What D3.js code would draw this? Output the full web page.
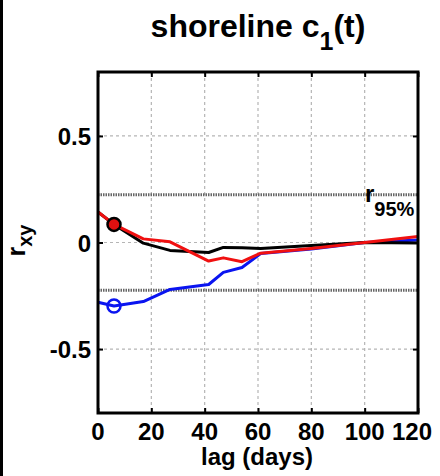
<!DOCTYPE html>
<html>
<head>
<meta charset="utf-8">
<script src="https://cdn.jsdelivr.net/npm/d3@7"></script>
<style>
  body { margin: 0; background: #fff; }
  text { font-family: "Liberation Sans", Arial, sans-serif; font-weight: bold; fill: #000; }
</style>
</head>
<body>
<svg id="chart" width="440" height="476"></svg>
<script>
// Data
const lags = [0, 6, 17, 27, 41.5, 47, 54, 61, 80, 100, 120];
const blackR = [0.143, 0.085, -0.003, -0.037, -0.047, -0.023, -0.025, -0.028, -0.014, 0, -0.002];
const redR = [0.143, 0.085, 0.017, 0.003, -0.087, -0.072, -0.09, -0.05, -0.028, 0, 0.028];
const blueR = [-0.28, -0.298, -0.277, -0.22, -0.197, -0.14, -0.117, -0.052, -0.03, 0, 0.012];
const r95 = 0.224;
const xTicks = [0, 20, 40, 60, 80, 100, 120];
const yTicks = [-0.5, 0, 0.5];
const markerLag = 6;

const svg = d3.select("#chart"),
  margin = {top: 72, left: 98, bottom: 63, right: 22},
  width = +svg.attr("width"),
  height = +svg.attr("height");

// black strip at the left edge
svg.append("rect").attr("x", 0).attr("y", 0).attr("width", 3).attr("height", height).attr("fill", "#000");

const x = d3.scaleLinear().domain([0, 120]).range([margin.left, width - margin.right]);
const y = d3.scaleLinear().domain([-0.8, 0.8]).range([height - margin.bottom, margin.top]);

// grid
const grid = svg.append("g").attr("stroke", "#b5b5b5").attr("stroke-width", 1.2).attr("stroke-dasharray", "3,3");
grid.selectAll(".vx").data(xTicks.slice(1, -1)).enter().append("line")
  .attr("x1", d => x(d)).attr("x2", d => x(d)).attr("y1", y(0.8)).attr("y2", y(-0.8));
grid.selectAll(".hy").data(yTicks).enter().append("line")
  .attr("y1", d => y(d)).attr("y2", d => y(d)).attr("x1", x(0)).attr("x2", x(120));

// 95% significance lines
svg.selectAll(".sig").data([r95, -r95]).enter().append("line")
  .attr("x1", x(0)).attr("x2", x(120)).attr("y1", d => y(d)).attr("y2", d => y(d))
  .attr("stroke", "#666").attr("stroke-width", 3).attr("stroke-dasharray", "1.5,1");

// curves
const line = d3.line().x((d, i) => x(lags[i])).y(d => y(d));
[[blueR, "#0a14f0"], [blackR, "#000"], [redR, "#f01010"]].forEach(([vals, c]) => {
  svg.append("path").datum(vals).attr("d", line)
    .attr("fill", "none").attr("stroke", c).attr("stroke-width", 3).attr("stroke-linejoin", "round");
});

// markers
const mi = lags.indexOf(markerLag);
svg.append("circle").attr("cx", x(markerLag)).attr("cy", y(redR[mi])).attr("r", 6.5)
  .attr("fill", "#e01010").attr("stroke", "#000").attr("stroke-width", 2.5);
svg.append("circle").attr("cx", x(markerLag)).attr("cy", y(blueR[mi])).attr("r", 6.5)
  .attr("fill", "none").attr("stroke", "#0a14f0").attr("stroke-width", 2.5);

// axes with inward ticks on all sides
const tl = 5;
svg.append("g").attr("transform", `translate(0,${y(-0.8)})`)
  .call(d3.axisBottom(x).tickValues(xTicks).tickSize(-tl).tickFormat(""))
  .call(g => g.select(".domain").remove());
svg.append("g").attr("transform", `translate(0,${y(0.8)})`)
  .call(d3.axisTop(x).tickValues(xTicks).tickSize(-tl).tickFormat(""))
  .call(g => g.select(".domain").remove());
svg.append("g").attr("transform", `translate(${x(0)},0)`)
  .call(d3.axisLeft(y).tickValues(yTicks).tickSize(-tl).tickFormat(""))
  .call(g => g.select(".domain").remove());
svg.append("g").attr("transform", `translate(${x(120)},0)`)
  .call(d3.axisRight(y).tickValues(yTicks).tickSize(-tl).tickFormat(""))
  .call(g => g.select(".domain").remove());
svg.selectAll(".tick line").attr("stroke", "#000").attr("stroke-width", 2);

svg.append("rect").attr("x", x(0)).attr("y", y(0.8))
  .attr("width", x(120) - x(0)).attr("height", y(-0.8) - y(0.8))
  .attr("fill", "none").attr("stroke", "#000").attr("stroke-width", 3);

// tick labels
svg.selectAll(".xl").data(xTicks).enter().append("text")
  .attr("x", d => x(d) - (d === 120 ? 6 : 0)).attr("y", 440).attr("text-anchor", "middle")
  .style("font-size", "24px").text(d => d);
svg.selectAll(".yl").data(yTicks).enter().append("text")
  .attr("x", 91).attr("y", d => y(d) + 9).attr("text-anchor", "end")
  .style("font-size", "24px").text(d => d === 0 ? "0" : d);

// axis titles
svg.append("text").attr("x", x(60) - 1).attr("y", 465).attr("text-anchor", "middle")
  .style("font-size", "24px").text("lag (days)");

const yl = svg.append("text").attr("transform", `translate(25,${y(0) - 2}) rotate(-90)`)
  .attr("text-anchor", "middle").style("font-size", "25px");
yl.append("tspan").text("r");
yl.append("tspan").attr("dy", 7).style("font-size", "20px").text("xy");

// title
const t = svg.append("text").attr("x", x(60)).attr("y", 37).attr("text-anchor", "middle")
  .style("font-size", "32px");
t.append("tspan").text("shoreline c");
t.append("tspan").attr("dy", 13).style("font-size", "25px").text("1");
t.append("tspan").attr("dy", -13).text("(t)");

// r95% label
const rl = svg.append("text").attr("x", 365).attr("y", 202).style("font-size", "24px");
rl.append("tspan").text("r");
rl.append("tspan").attr("dy", 14).style("font-size", "20px").text("95%");
</script>
</body>
</html>
